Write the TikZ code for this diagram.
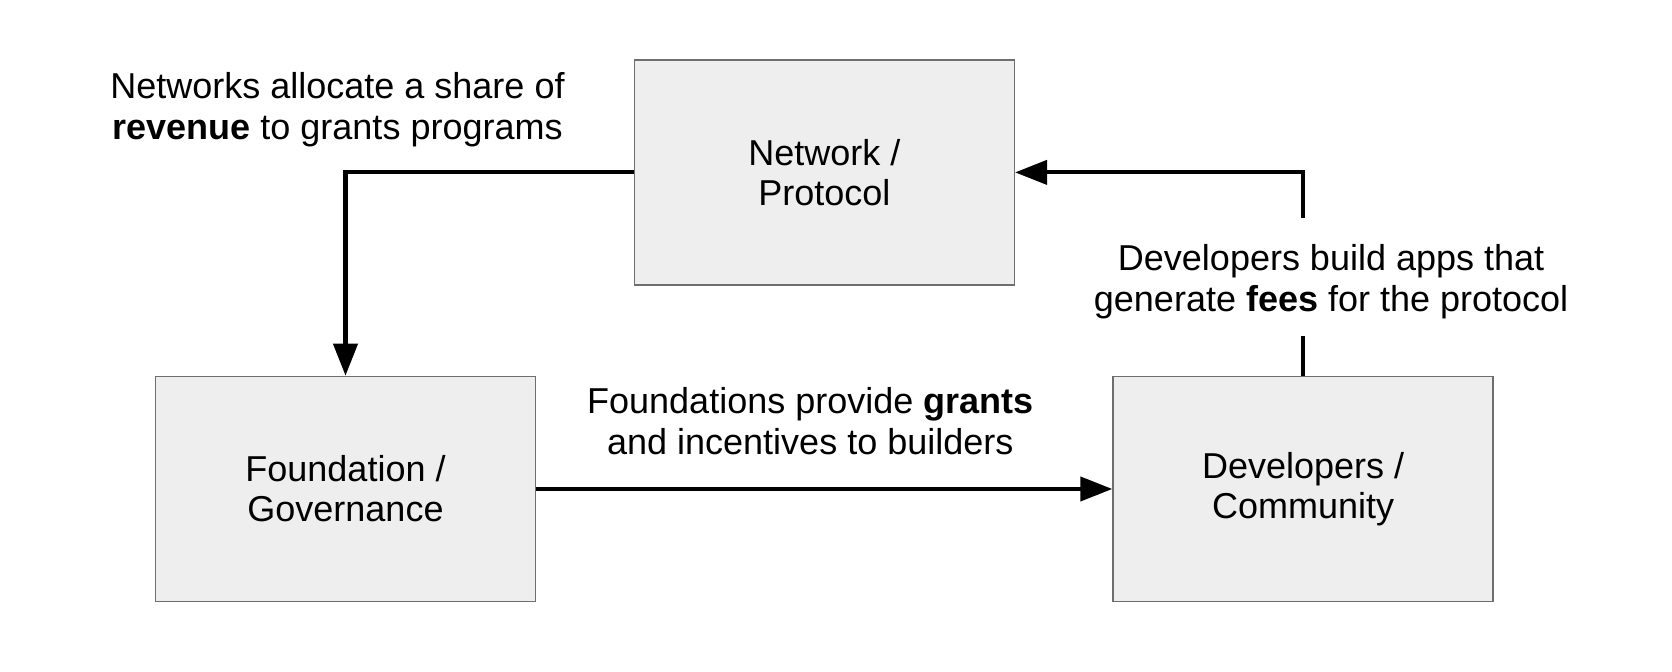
\documentclass[tikz,border=0pt]{standalone}
\usepackage{fontspec}
\setmainfont{Liberation Sans}
\usetikzlibrary{arrows.meta,positioning,calc}
\definecolor{boxfill}{HTML}{EEEEEE}
\definecolor{boxline}{HTML}{6E6E6E}
\tikzset{
  flowbox/.style={draw=boxline, line width=0.8pt, fill=boxfill, align=center,
    minimum width=190pt, minimum height=112.5pt, inner sep=0pt,
    font=\fontsize{18}{20}\selectfont},
  note/.style={align=center, font=\fontsize{18}{20.5}\selectfont},
  arr/.style={-{Triangle[length=16pt,width=12pt]}, line width=2.1pt},
  plainline/.style={line width=2.1pt}
}
\begin{document}
\begin{tikzpicture}
    \path[use as bounding box] (-172.75pt,-91.5pt) rectangle (663.25pt,244.5pt);
    \node[flowbox] (found) at (0,0) {Foundation /\\Governance};
    \node[flowbox, right=288pt of found] (dev) {Developers /\\Community};
    \coordinate (mid) at ($(found.north)!0.5!(dev.north)$);
    \node[flowbox, above=45pt of mid] (net) {Network /\\Protocol};
    % labels
    \node[note] (revenue) at ($(found.north |- net.west)+(-4pt,31.5pt)$)
      {Networks allocate a share of\\\textbf{revenue} to grants programs};
    \node[note] (grants) at ($(found.east)!0.5!(dev.west)+(-7pt,34pt)$)
      {Foundations provide \textbf{grants}\\and incentives to builders};
    \node[note] (fees) at ($(dev.north)+(14pt,47pt)$)
      {Developers build apps that\\generate \textbf{fees} for the protocol};
    \coordinate (gapB) at ($(dev.north)+(0,20pt)$);
    \coordinate (gapT) at ($(dev.north)+(0,79pt)$);
    % connectors
    \draw[arr] (net.west) -| (found.north);
    \draw[arr] (found.east) -- (dev.west);
    \draw[plainline] (dev.north) -- (gapB);
    \draw[arr] (gapT) |- (net.east);
  \end{tikzpicture}
\end{document}
